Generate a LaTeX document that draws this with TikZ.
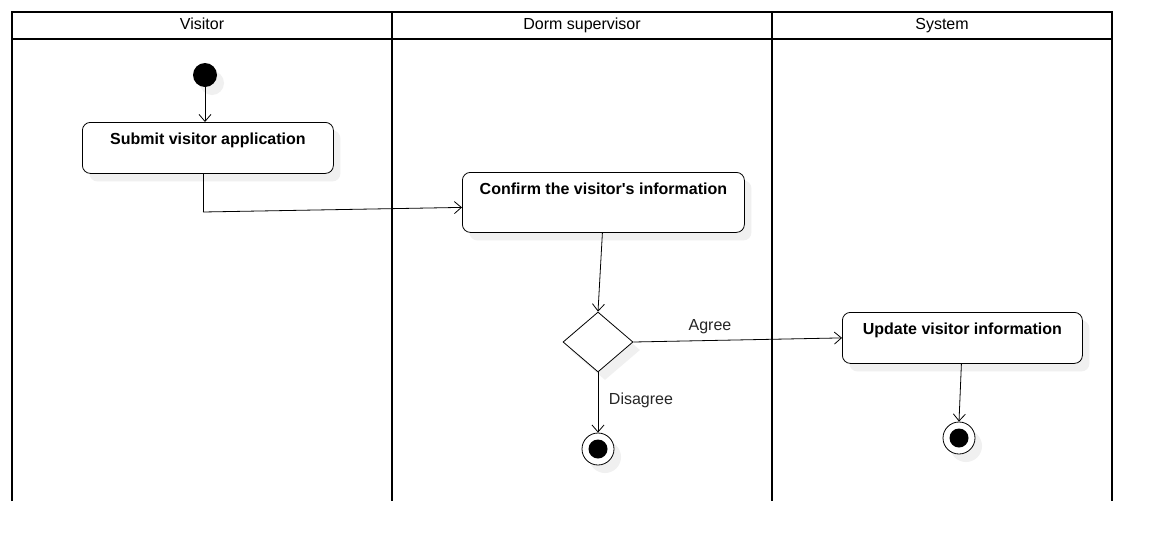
\documentclass[tikz,border=0pt]{standalone}
\usepackage{fontspec}
\setmainfont{Liberation Sans}
\usetikzlibrary{arrows.meta,shapes.geometric,shadows}
\begin{document}
\begin{tikzpicture}[x=1pt,y=-1pt,
  lane/.style={line width=2.5pt},
  flow/.style={draw, line width=0.8pt, -{Straight Barb[length=7pt,width=12pt,line width=0.8pt]}},
  myshadow/.style={drop shadow={shadow xshift=7pt,shadow yshift=-8pt,fill=black!6,opacity=1}},
  act/.style={draw, line width=0.8pt, rounded corners=8pt, fill=white, myshadow,
    font=\bfseries\fontsize{16}{18}\selectfont, inner xsep=0pt, inner ysep=0pt, anchor=north west},
  hdr/.style={font=\fontsize{16}{18}\selectfont, text height=11.5pt, text depth=3pt, inner sep=0pt},
  lbl/.style={font=\fontsize{16}{18}\selectfont, text=black!85, text height=11.5pt, text depth=3pt, inner sep=0pt},
  startst/.style={circle, fill=black, minimum size=24pt, inner sep=0pt, myshadow},
  endst/.style={circle, draw, line width=0.8pt, fill=white, minimum size=32pt, inner sep=0pt, myshadow,
    path picture={\fill[black] (path picture bounding box.center) circle (9.5pt);}},
  dec/.style={diamond, draw, line width=0.8pt, fill=white, minimum width=70pt, minimum height=60pt, inner sep=0pt, aspect=1.1667, myshadow}
]
\useasboundingbox[fill=white] (0,0) rectangle (1162,552);
% swimlanes
\draw[lane] (12,501) -- (12,12) -- (1112,12) -- (1112,501);
\draw[lane] (392,12) -- (392,501);
\draw[lane] (772,12) -- (772,501);
\draw[lane] (12,39) -- (1112,39);
\node[hdr] (h1) at (202,25) {Visitor};
\node[hdr] (h2) at (582,25) {Dorm supervisor};
\node[hdr] (h3) at (942,25) {System};
% nodes
\node[startst] (start) at (205,75) {};
\node[act, minimum width=251pt, text height=22pt, text depth=29pt] (submit) at (82,122) {Submit visitor application};
\node[act, minimum width=282pt, text height=22pt, text depth=38pt] (confirm) at (462,172) {Confirm the visitor\textquotesingle s information};
\node[dec] (d) at (598,342) {};
\node[act, minimum width=240pt, text height=22pt, text depth=29pt] (update) at (842,312) {Update visitor information};
\node[endst] (end1) at (598,449) {};
\node[endst] (end2) at (959,438) {};
\coordinate (bend) at (203,212);
% connectors
\draw[flow] (start) -- (start|-submit.north);
\draw[line width=0.8pt] (submit.south -| bend) -- (bend);
\draw[flow] (bend) -- ([yshift=-5pt]confirm.west);
\draw[flow] ([xshift=-1pt]confirm.south) -- (d.north);
\draw[flow] (d.east) -- (update.west);
\draw[flow] (d.south) -- (end1.north);
\draw[flow] ([xshift=-1pt]update.south) -- (end2.north);
\node[lbl] (agree) at (710,326) {Agree};
\node[lbl] (disagree) at (641,400) {Disagree};
\end{tikzpicture}
\end{document}
